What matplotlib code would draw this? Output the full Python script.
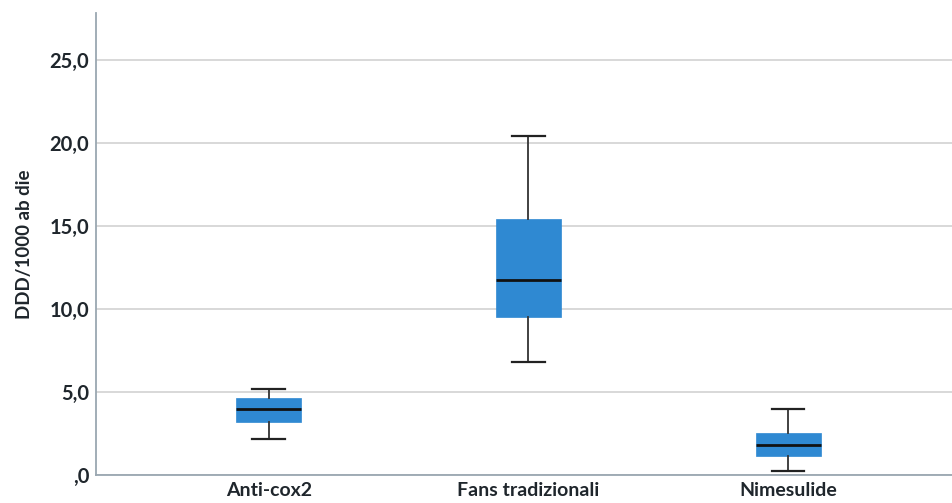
import matplotlib
matplotlib.use("Agg")
import matplotlib.pyplot as plt
from matplotlib.ticker import FixedLocator, FuncFormatter

plt.rcParams['font.family'] = ['Lato', 'DejaVu Sans']

# Box-plot summary values (DDD/1000 ab die)
categories = ["Anti-cox2", "Fans tradizionali", "Nimesulide"]
whisker_low = [2.17, 6.80, 0.24]
q1 = [3.19, 9.52, 1.14]
median = [3.98, 11.75, 1.81]
q3 = [4.64, 15.42, 2.53]
whisker_high = [5.18, 20.42, 3.98]
y_ticks = [0, 5, 10, 15, 20, 25]
y_label = "DDD/1000 ab die"

stats = [
    dict(label=c, whislo=lo, q1=a, med=m, q3=b, whishi=hi, fliers=[])
    for c, lo, a, m, b, hi in zip(categories, whisker_low, q1, median, q3, whisker_high)
]

fig = plt.figure(figsize=(9.53, 5.03), dpi=100)
ax = fig.add_axes([0.1007, 0.0557, 0.8993, 0.9185])

box_color = "#2f89d2"
ax.bxp(
    stats,
    positions=range(len(categories)),
    widths=0.25,
    patch_artist=True,
    showfliers=False,
    boxprops=dict(facecolor=box_color, edgecolor=box_color, linewidth=0.5),
    medianprops=dict(color="#111111", linewidth=2.0),
    whiskerprops=dict(color="#333333", linewidth=1.3),
    capprops=dict(color="#222222", linewidth=1.6),
    capwidths=0.125,
    zorder=3,
)

ax.set_xlim(-0.665, 2.635)
ax.set_ylim(0, 27.8)


def comma_fmt(v, _):
    s = ("%.1f" % v).replace(".", ",")
    return s[1:] if s.startswith("0,") else s


ax.yaxis.set_major_locator(FixedLocator(y_ticks))
ax.yaxis.set_major_formatter(FuncFormatter(comma_fmt))
ax.grid(axis="y", color="#d6d6d6", linewidth=1.3, zorder=0)
ax.set_axisbelow(True)

for side in ("top", "right"):
    ax.spines[side].set_visible(False)
for side in ("left", "bottom"):
    ax.spines[side].set_color("#9aa7b1")
    ax.spines[side].set_linewidth(1.3)

text_color = "#1f262c"
ax.tick_params(axis="both", length=0, labelsize=14.5, labelcolor=text_color)
ax.tick_params(axis="y", pad=5)
ax.tick_params(axis="x", pad=5, labelsize=14)
ax.set_xticks(range(len(categories)))
ax.set_xticklabels(categories)
for lbl in ax.get_xticklabels() + ax.get_yticklabels():
    lbl.set_fontweight("bold")

ax.set_ylabel(y_label, fontsize=13.5, fontweight="bold", color=text_color, labelpad=12)

fig.savefig("out.png", dpi=100, facecolor="white")
